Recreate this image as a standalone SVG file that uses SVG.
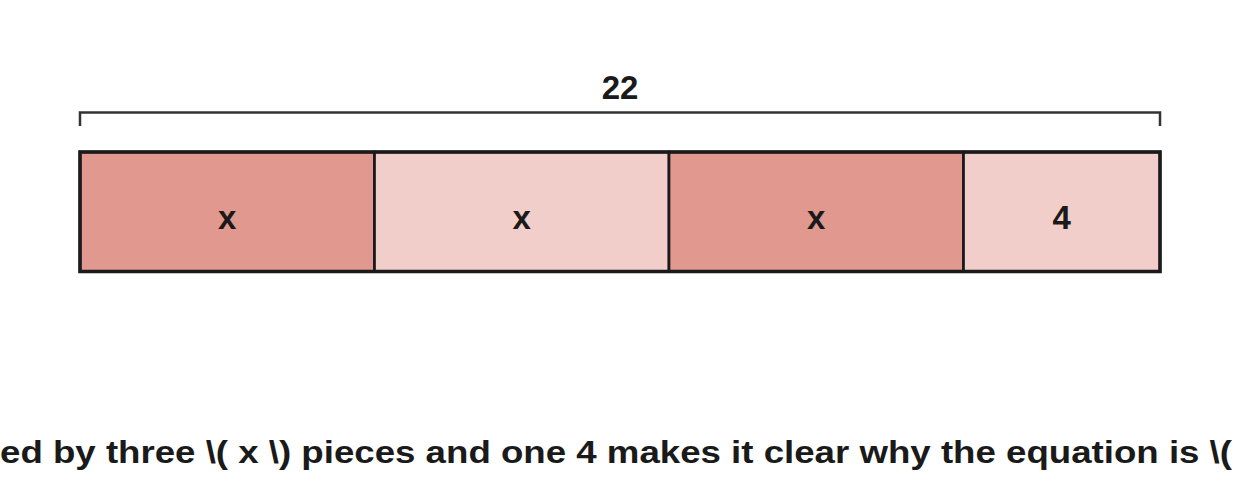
<svg xmlns="http://www.w3.org/2000/svg" width="1240" height="500" viewBox="0 0 1240 500">
<style>
.lbl{font-family:"Liberation Sans","DejaVu Sans",sans-serif;font-weight:bold;font-size:33px;fill:#1a1a1a;text-anchor:middle}
.dark{fill:#E0988F;stroke:#1a1a1a;stroke-width:2.7}
.light{fill:#F1CECA;stroke:#1a1a1a;stroke-width:2.7}
.cap{font-family:"Liberation Sans","DejaVu Sans",sans-serif;font-weight:bold;font-size:32px;fill:#1a1a1a}
</style>
<rect width="1240" height="500" fill="#ffffff"/>
<g id="bracket">
<path d="M80,126 V112.5 H1160 V126" fill="none" stroke="#333333" stroke-width="2.5"/>
<text class="lbl" x="620" y="99">22</text>
</g>
<g id="seg1"><rect class="dark" x="80" y="152" width="294.5" height="119.5"/><text class="lbl" x="227.3" y="229">x</text></g>
<g id="seg2"><rect class="light" x="374.5" y="152" width="294.5" height="119.5"/><text class="lbl" x="521.8" y="229">x</text></g>
<g id="seg3"><rect class="dark" x="669" y="152" width="294.5" height="119.5"/><text class="lbl" x="816.3" y="229">x</text></g>
<g id="seg4"><rect class="light" x="963.5" y="152" width="196.5" height="119.5"/><text class="lbl" x="1061.8" y="229">4</text></g>
<rect x="80" y="152" width="1080" height="119.5" fill="none" stroke="#1a1a1a" stroke-width="3.5"/>
<text class="cap" x="0" y="463" textLength="1232" lengthAdjust="spacingAndGlyphs">ed by three \( x \) pieces and one 4 makes it clear why the equation is \(</text>
</svg>
